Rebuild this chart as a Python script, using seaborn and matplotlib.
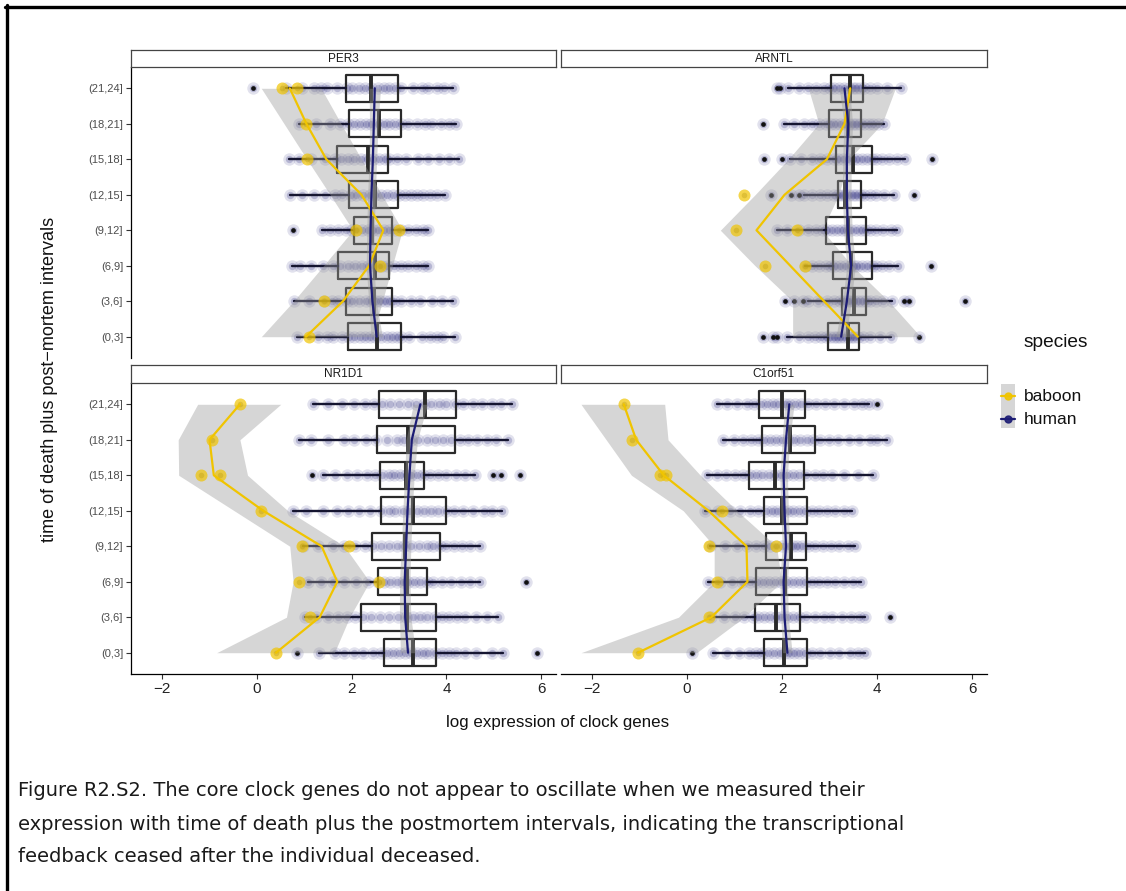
import numpy as np
import pandas as pd
import matplotlib
matplotlib.use("Agg")
import matplotlib.pyplot as plt
from matplotlib.lines import Line2D
from matplotlib.patches import Rectangle
import seaborn as sns

sns.set_theme(style="white")
plt.rcParams["font.family"] = ["Liberation Sans", "DejaVu Sans"]

# ---------------------------------------------------------------- data
intervals = ["(0,3]", "(3,6]", "(6,9]", "(9,12]", "(12,15]", "(15,18]", "(18,21]", "(21,24]"]
genes = ["PER3", "ARNTL", "NR1D1", "C1orf51"]
species = ["baboon", "human"]
x_ticks = [-2, 0, 2, 4, 6]

# PER3
per3_q1 = [1.93, 1.88, 1.72, 2.06, 1.95, 1.70, 1.95, 1.88]
per3_med = [2.53, 2.47, 2.50, 2.44, 2.49, 2.35, 2.57, 2.42]
per3_q3 = [3.04, 2.86, 2.79, 2.86, 2.98, 2.77, 3.05, 2.98]
per3_wlo = [0.86, 0.79, 0.75, 1.37, 0.70, 0.69, 0.90, 0.63]
per3_whi = [4.17, 4.14, 3.61, 3.61, 3.96, 4.27, 4.20, 4.13]
per3_out = [[], [], [], [0.77], [], [], [], [-0.07]]
per3_human = [
    [0.86, 1.30, 1.48, 1.62, 1.80, 1.95, 2.05, 2.18, 2.28, 2.38, 2.50, 2.62, 2.74, 2.85, 2.95, 3.05, 3.22, 3.48, 3.66, 3.80, 3.92, 4.17],
    [0.79, 1.10, 1.42, 1.58, 1.72, 1.90, 2.02, 2.15, 2.30, 2.42, 2.52, 2.60, 2.70, 2.80, 2.90, 3.05, 3.25, 3.45, 3.70, 3.90, 4.14],
    [0.75, 0.92, 1.15, 1.40, 1.62, 1.75, 1.92, 2.08, 2.22, 2.35, 2.48, 2.56, 2.64, 2.75, 2.90, 3.05, 3.20, 3.35, 3.50, 3.61],
    [0.77, 1.37, 1.55, 1.72, 1.88, 2.00, 2.10, 2.22, 2.35, 2.45, 2.55, 2.68, 2.80, 2.92, 3.05, 3.18, 3.35, 3.50, 3.61],
    [0.70, 0.95, 1.20, 1.45, 1.65, 1.80, 1.98, 2.10, 2.25, 2.38, 2.50, 2.62, 2.75, 2.88, 3.00, 3.12, 3.25, 3.38, 3.50, 3.65, 3.80, 3.96],
    [0.69, 0.90, 1.15, 1.45, 1.65, 1.78, 1.92, 2.05, 2.20, 2.32, 2.45, 2.58, 2.70, 2.80, 2.95, 3.15, 3.40, 3.62, 3.85, 4.05, 4.27],
    [0.90, 1.25, 1.55, 1.75, 1.92, 2.05, 2.18, 2.30, 2.42, 2.55, 2.68, 2.80, 2.92, 3.05, 3.20, 3.38, 3.55, 3.70, 3.88, 4.05, 4.20],
    [-0.07, 0.63, 0.95, 1.20, 1.35, 1.48, 1.70, 1.90, 2.02, 2.15, 2.28, 2.42, 2.55, 2.68, 2.80, 2.92, 3.05, 3.30, 3.48, 3.62, 3.80, 3.95, 4.13],
]
per3_baboon = [[1.11], [1.42], [2.60], [2.09, 3.00], [], [1.07], [1.04], [0.53, 0.86]]
per3_bab_mean = [1.04, 1.82, 2.37, 2.67, 2.21, 1.47, 1.05, 0.70]
per3_bab_lo = [0.10, 0.78, 1.41, 2.03, 1.55, 1.06, 0.58, 0.10]
per3_bab_hi = [2.44, 2.65, 2.86, 3.07, 2.64, 2.21, 1.78, 1.36]
per3_hum_fit = [2.53, 2.44, 2.39, 2.40, 2.42, 2.45, 2.47, 2.49]
per3_hum_se = [0.12, 0.08, 0.08, 0.08, 0.08, 0.08, 0.09, 0.12]

# ARNTL
arntl_q1 = [2.96, 3.26, 3.07, 2.92, 3.17, 3.14, 2.99, 3.02]
arntl_med = [3.39, 3.51, 3.45, 3.38, 3.33, 3.49, 3.39, 3.43]
arntl_q3 = [3.62, 3.77, 3.89, 3.76, 3.66, 3.89, 3.66, 3.69]
arntl_wlo = [2.10, 2.55, 2.48, 1.89, 2.45, 2.17, 2.03, 2.13]
arntl_whi = [4.28, 4.31, 4.43, 4.42, 4.35, 4.59, 4.14, 4.49]
arntl_out = [[1.59, 1.80, 1.90, 4.87], [2.06, 2.24, 2.43, 4.56, 4.66, 5.84], [5.13], [],
             [1.77, 2.19, 2.36, 4.78], [1.62, 1.99, 5.15], [1.60], [1.89, 1.95]]
arntl_human = [
    [1.59, 1.80, 1.90, 2.10, 2.35, 2.55, 2.70, 2.82, 2.92, 3.00, 3.08, 3.15, 3.22, 3.30, 3.38, 3.45, 3.52, 3.60, 3.70, 3.85, 4.05, 4.28, 4.87],
    [2.06, 2.24, 2.43, 2.55, 2.75, 2.95, 3.10, 3.22, 3.30, 3.38, 3.45, 3.52, 3.60, 3.68, 3.76, 3.85, 3.98, 4.12, 4.31, 4.56, 4.66, 5.84],
    [2.48, 2.62, 2.78, 2.92, 3.02, 3.12, 3.22, 3.32, 3.42, 3.50, 3.58, 3.68, 3.78, 3.88, 3.98, 4.10, 4.25, 4.43, 5.13],
    [1.89, 2.10, 2.35, 2.55, 2.72, 2.85, 2.95, 3.05, 3.15, 3.25, 3.35, 3.45, 3.55, 3.65, 3.75, 3.85, 3.98, 4.12, 4.28, 4.42],
    [1.77, 2.19, 2.36, 2.45, 2.62, 2.80, 2.95, 3.08, 3.18, 3.25, 3.32, 3.40, 3.48, 3.56, 3.64, 3.72, 3.85, 3.98, 4.15, 4.35, 4.78],
    [1.62, 1.99, 2.17, 2.40, 2.62, 2.80, 2.95, 3.08, 3.18, 3.28, 3.38, 3.48, 3.58, 3.68, 3.78, 3.88, 3.98, 4.10, 4.25, 4.42, 4.59, 5.15],
    [1.60, 2.03, 2.25, 2.45, 2.62, 2.78, 2.92, 3.02, 3.12, 3.22, 3.32, 3.40, 3.48, 3.56, 3.64, 3.72, 3.82, 3.92, 4.02, 4.14],
    [1.89, 1.95, 2.13, 2.35, 2.55, 2.72, 2.88, 3.00, 3.10, 3.20, 3.30, 3.40, 3.48, 3.56, 3.64, 3.72, 3.85, 4.00, 4.20, 4.49],
]
arntl_baboon = [[], [], [1.64, 2.48], [1.03, 2.32], [1.20], [], [], []]
arntl_bab_mean = [3.59, 2.88, 2.17, 1.46, 2.05, 2.94, 3.31, 3.43]
arntl_bab_lo = [2.22, 2.22, 1.43, 0.70, 1.43, 2.13, 2.77, 2.55]
arntl_bab_hi = [4.91, 4.24, 3.47, 2.84, 3.19, 3.40, 4.10, 4.38]
arntl_hum_fit = [3.24, 3.36, 3.45, 3.38, 3.36, 3.36, 3.39, 3.31]
arntl_hum_se = [0.11, 0.09, 0.09, 0.09, 0.09, 0.09, 0.09, 0.11]

# NR1D1
nr1d1_q1 = [2.69, 2.21, 2.55, 2.44, 2.62, 2.60, 2.53, 2.58]
nr1d1_med = [3.30, 3.17, 3.16, 3.13, 3.30, 3.14, 3.19, 3.54]
nr1d1_q3 = [3.78, 3.78, 3.60, 3.87, 3.98, 3.52, 4.18, 4.20]
nr1d1_wlo = [1.32, 1.02, 1.09, 0.98, 0.77, 1.39, 0.90, 1.19]
nr1d1_whi = [5.19, 5.09, 4.70, 4.70, 5.16, 4.60, 5.30, 5.37]
nr1d1_out = [[0.86, 5.91], [], [5.67], [], [], [1.16, 4.98, 5.14, 5.54], [], []]
nr1d1_human = [
    [0.86, 1.32, 1.65, 1.85, 2.05, 2.25, 2.45, 2.62, 2.75, 2.88, 3.00, 3.12, 3.25, 3.38, 3.50, 3.62, 3.75, 3.90, 4.05, 4.20, 4.40, 4.62, 4.95, 5.19, 5.91],
    [1.02, 1.25, 1.50, 1.72, 1.90, 2.08, 2.25, 2.42, 2.60, 2.80, 2.98, 3.15, 3.30, 3.45, 3.60, 3.75, 3.90, 4.05, 4.22, 4.40, 4.62, 4.85, 5.09],
    [1.09, 1.35, 1.60, 1.85, 2.10, 2.35, 2.55, 2.68, 2.82, 2.95, 3.08, 3.20, 3.32, 3.45, 3.58, 3.72, 3.90, 4.10, 4.30, 4.50, 4.70, 5.67],
    [0.98, 1.30, 1.60, 1.85, 2.08, 2.28, 2.45, 2.62, 2.78, 2.95, 3.10, 3.25, 3.42, 3.58, 3.72, 3.86, 4.00, 4.15, 4.32, 4.50, 4.70],
    [0.77, 1.05, 1.40, 1.70, 1.92, 2.15, 2.38, 2.62, 2.78, 2.92, 3.08, 3.22, 3.38, 3.52, 3.68, 3.82, 3.98, 4.15, 4.35, 4.55, 4.78, 4.95, 5.16],
    [1.16, 1.39, 1.65, 1.90, 2.12, 2.32, 2.50, 2.65, 2.78, 2.90, 3.02, 3.14, 3.26, 3.38, 3.50, 3.65, 3.82, 4.00, 4.20, 4.40, 4.60, 4.98, 5.14, 5.54],
    [0.90, 1.15, 1.50, 1.85, 2.05, 2.30, 2.52, 2.75, 2.95, 3.10, 3.25, 3.40, 3.58, 3.75, 3.92, 4.10, 4.28, 4.45, 4.65, 4.85, 5.05, 5.30],
    [1.19, 1.50, 1.80, 2.05, 2.28, 2.48, 2.65, 2.82, 3.00, 3.18, 3.35, 3.52, 3.68, 3.85, 4.00, 4.18, 4.35, 4.55, 4.75, 4.95, 5.15, 5.37],
]
nr1d1_baboon = [[0.41], [1.12], [0.90, 2.58], [0.95, 1.95], [0.09], [-1.18, -0.77], [-0.93], [-0.35]]
nr1d1_bab_mean = [0.41, 1.33, 1.70, 1.37, 0.14, -0.90, -0.99, -0.35]
nr1d1_bab_lo = [-0.84, 0.63, 0.77, 0.70, -0.47, -1.64, -1.65, -1.24]
nr1d1_bab_hi = [1.64, 1.96, 2.38, 1.85, 0.66, -0.19, -0.35, 0.51]
nr1d1_hum_fit = [3.19, 3.13, 3.12, 3.15, 3.18, 3.22, 3.27, 3.45]
nr1d1_hum_se = [0.16, 0.12, 0.11, 0.10, 0.10, 0.10, 0.12, 0.15]

# C1orf51
c1orf51_q1 = [1.62, 1.43, 1.45, 1.66, 1.62, 1.30, 1.58, 1.52]
c1orf51_med = [2.04, 1.87, 2.06, 2.19, 1.99, 1.84, 2.17, 1.99]
c1orf51_q3 = [2.52, 2.38, 2.52, 2.50, 2.52, 2.45, 2.69, 2.47]
c1orf51_wlo = [0.55, 0.51, 0.44, 0.48, 0.37, 0.41, 0.76, 0.63]
c1orf51_whi = [3.75, 3.75, 3.66, 3.54, 3.47, 3.92, 4.21, 3.83]
c1orf51_out = [[0.11], [4.26], [], [], [], [], [], [3.99]]
c1orf51_human = [
    [0.11, 0.55, 0.85, 1.10, 1.30, 1.45, 1.58, 1.70, 1.82, 1.95, 2.05, 2.15, 2.25, 2.35, 2.48, 2.62, 2.80, 3.00, 3.20, 3.42, 3.60, 3.75],
    [0.51, 0.78, 1.00, 1.20, 1.38, 1.50, 1.62, 1.75, 1.86, 1.98, 2.10, 2.22, 2.35, 2.50, 2.70, 2.88, 3.05, 3.25, 3.45, 3.62, 3.75, 4.26],
    [0.44, 0.70, 0.95, 1.15, 1.32, 1.48, 1.60, 1.72, 1.85, 1.98, 2.10, 2.22, 2.35, 2.48, 2.62, 2.78, 2.95, 3.12, 3.30, 3.48, 3.66],
    [0.48, 0.80, 1.05, 1.25, 1.45, 1.62, 1.75, 1.88, 2.00, 2.12, 2.22, 2.32, 2.42, 2.55, 2.70, 2.85, 3.02, 3.20, 3.38, 3.54],
    [0.37, 0.65, 0.90, 1.12, 1.32, 1.50, 1.65, 1.78, 1.90, 2.02, 2.12, 2.22, 2.35, 2.48, 2.62, 2.78, 2.95, 3.12, 3.30, 3.47],
    [0.41, 0.62, 0.82, 1.00, 1.18, 1.32, 1.45, 1.58, 1.72, 1.85, 1.98, 2.10, 2.22, 2.35, 2.50, 2.68, 2.85, 3.05, 3.30, 3.60, 3.92],
    [0.76, 0.98, 1.18, 1.35, 1.50, 1.62, 1.75, 1.88, 2.00, 2.12, 2.25, 2.38, 2.52, 2.65, 2.80, 2.98, 3.18, 3.40, 3.62, 3.85, 4.00, 4.21],
    [0.63, 0.85, 1.05, 1.25, 1.40, 1.55, 1.68, 1.80, 1.92, 2.05, 2.15, 2.28, 2.40, 2.55, 2.72, 2.90, 3.10, 3.30, 3.50, 3.68, 3.83, 3.99],
]
c1orf51_baboon = [[-1.03], [0.46], [0.64], [0.46, 1.87], [0.74], [-0.56, -0.45], [-1.16], [-1.33]]
c1orf51_bab_mean = [-1.03, 0.51, 1.27, 1.25, 0.45, -0.49, -1.07, -1.33]
c1orf51_bab_lo = [-2.23, -0.18, 0.57, 0.57, -0.08, -1.17, -1.70, -2.23]
c1orf51_bab_hi = [0.20, 1.20, 1.99, 1.88, 1.05, 0.28, -0.40, -0.47]
c1orf51_hum_fit = [2.11, 2.05, 2.03, 2.08, 2.05, 2.03, 2.08, 2.15]
c1orf51_hum_se = [0.10, 0.08, 0.08, 0.08, 0.08, 0.08, 0.08, 0.10]

panels = {
    "PER3": (per3_q1, per3_med, per3_q3, per3_wlo, per3_whi, per3_out, per3_human, per3_baboon,
             per3_bab_mean, per3_bab_lo, per3_bab_hi, per3_hum_fit, per3_hum_se),
    "ARNTL": (arntl_q1, arntl_med, arntl_q3, arntl_wlo, arntl_whi, arntl_out, arntl_human, arntl_baboon,
              arntl_bab_mean, arntl_bab_lo, arntl_bab_hi, arntl_hum_fit, arntl_hum_se),
    "NR1D1": (nr1d1_q1, nr1d1_med, nr1d1_q3, nr1d1_wlo, nr1d1_whi, nr1d1_out, nr1d1_human, nr1d1_baboon,
              nr1d1_bab_mean, nr1d1_bab_lo, nr1d1_bab_hi, nr1d1_hum_fit, nr1d1_hum_se),
    "C1orf51": (c1orf51_q1, c1orf51_med, c1orf51_q3, c1orf51_wlo, c1orf51_whi, c1orf51_out, c1orf51_human,
                c1orf51_baboon, c1orf51_bab_mean, c1orf51_bab_lo, c1orf51_bab_hi, c1orf51_hum_fit, c1orf51_hum_se),
}

# ---------------------------------------------------------------- style
GOLD = "#F0C400"
NAVY = "#1c1c74"
RIBBON = "#999999"
W, H = 1126, 891


def fig_rect(x0, y0, x1, y1):
    """Pixel box (top-left origin) -> figure fraction rect."""
    return [x0 / W, 1 - y1 / H, (x1 - x0) / W, (y1 - y0) / H]


def draw_panel(ax, name):
    (q1, med, q3, wlo, whi, out, human, baboon,
     bmean, blo, bhi, hfit, hse) = panels[name]
    pos = np.arange(len(intervals))

    hum = pd.DataFrame([(v, p) for p, vals in zip(pos, human) for v in vals],
                       columns=["value", "pos"])
    bab = pd.DataFrame([(v, p) for p, vals in zip(pos, baboon) for v in vals],
                       columns=["value", "pos"])

    # individual samples
    sns.scatterplot(data=hum, x="value", y="pos", color=NAVY, alpha=0.13, s=80,
                    linewidth=0, legend=False, ax=ax, zorder=2)
    sns.scatterplot(data=hum, x="value", y="pos", color=NAVY, alpha=0.22, s=28,
                    linewidth=0, legend=False, ax=ax, zorder=2)

    # human boxplots
    stats = [dict(med=m, q1=a, q3=b, whislo=lo, whishi=hi, fliers=f)
             for m, a, b, lo, hi, f in zip(med, q1, q3, wlo, whi, out)]
    ax.bxp(stats, positions=pos, widths=0.77, orientation="horizontal",
           showcaps=False, patch_artist=False,
           boxprops=dict(color="#2a2a2a", linewidth=1.6),
           whiskerprops=dict(color="#151530", linewidth=1.7),
           medianprops=dict(color="#2a2a2a", linewidth=2.8),
           flierprops=dict(marker="o", markerfacecolor="#111111",
                           markeredgecolor="none", markersize=3.4),
           zorder=3)

    # confidence bands
    ax.fill_betweenx(pos, blo, bhi, color=RIBBON, alpha=0.4, linewidth=0, zorder=4)
    hfit = np.asarray(hfit)
    hse = np.asarray(hse)
    ax.fill_betweenx(pos, hfit - hse, hfit + hse, color=RIBBON, alpha=0.4,
                     linewidth=0, zorder=4)

    # baboon samples
    if len(bab):
        sns.scatterplot(data=bab, x="value", y="pos", color=GOLD, alpha=0.7, s=75,
                        linewidth=0, legend=False, ax=ax, zorder=5)
        sns.scatterplot(data=bab, x="value", y="pos", color="#b89a10", alpha=0.35, s=16,
                        linewidth=0, legend=False, ax=ax, zorder=5)

    # trend lines
    sns.lineplot(x=bmean, y=pos, orient="y", sort=False, estimator=None,
                 color=GOLD, linewidth=1.6, ax=ax, zorder=6)
    sns.lineplot(x=hfit, y=pos, orient="y", sort=False, estimator=None,
                 color=NAVY, linewidth=1.6, ax=ax, zorder=6)

    ax.set_xlim(-2.65, 6.30)
    ax.set_ylim(-0.6, 7.6)
    ax.set_xlabel("")
    ax.set_ylabel("")
    ax.set_facecolor("white")
    for s in ax.spines.values():
        s.set_visible(False)


fig = plt.figure(figsize=(W / 100, H / 100), dpi=100)

layout = {
    "PER3": ((130.7, 67, 555.7, 358), (130.7, 50, 555.7, 67), True, False),
    "ARNTL": ((561, 67, 986.7, 358), (561, 50, 986.7, 67), False, False),
    "NR1D1": ((130.7, 383, 555.7, 674), (130.7, 365, 555.7, 383), True, True),
    "C1orf51": ((561, 383, 986.7, 674), (561, 365, 986.7, 383), False, True),
}

for name in genes:
    prect, srect, left_col, bottom_row = layout[name]
    ax = fig.add_axes(fig_rect(*prect))
    draw_panel(ax, name)

    ax.set_yticks(np.arange(len(intervals)))
    ax.set_xticks(x_ticks)
    if left_col:
        ax.spines["left"].set_visible(True)
        ax.spines["left"].set_color("black")
        ax.spines["left"].set_linewidth(0.9)
        ax.set_yticklabels(intervals)
        ax.tick_params(axis="y", left=True, length=3.5, width=0.8, color="#333333",
                       labelsize=8, labelcolor="#4d4d4d", pad=2)
    else:
        ax.tick_params(axis="y", left=False, labelleft=False)
    if bottom_row:
        ax.spines["bottom"].set_visible(True)
        ax.spines["bottom"].set_color("black")
        ax.spines["bottom"].set_linewidth(0.9)
        ax.set_xticklabels([f"{t}".replace("-", "\u2212") for t in x_ticks])
        ax.tick_params(axis="x", bottom=True, length=3.5, width=0.8, color="#333333",
                       labelsize=11, labelcolor="#222222", pad=2)
    else:
        ax.tick_params(axis="x", bottom=False, labelbottom=False)

    # facet strip
    sax = fig.add_axes(fig_rect(*srect))
    sax.set_xticks([])
    sax.set_yticks([])
    sax.set_facecolor("white")
    for s in sax.spines.values():
        s.set_visible(True)
        s.set_color("#444444")
        s.set_linewidth(0.9)
    sax.text(0.5, 0.5, name, ha="center", va="center", fontsize=8.5,
             color="#1a1a1a", transform=sax.transAxes)

# axis titles
fig.text(558 / W, 1 - 722 / H, "log expression of clock genes", ha="center",
         va="center", fontsize=12.2, color="#111111")
fig.text(50 / W, 1 - 379 / H, "time of death plus post\u2212mortem intervals",
         ha="center", va="center", rotation=90, fontsize=13, color="#111111")

# legend
lax = fig.add_axes(fig_rect(990, 320, 1126, 440))
lax.set_xlim(990, 1126)
lax.set_ylim(440, 320)
lax.axis("off")
lax.add_patch(Rectangle((1001, 384), 14, 44, facecolor="#d6d6d6", edgecolor="none"))
for sp, col, yk in zip(species, [GOLD, NAVY], [396.5, 419.5]):
    lax.plot([1001, 1015], [yk, yk], color=col, linewidth=1.6)
    lax.plot([1008], [yk], marker="o", markersize=5, color=col, alpha=0.9)
    lax.text(1024, yk, sp, ha="left", va="center", fontsize=12.5, color="#111111")
lax.text(1024, 343, "species", ha="left", va="center", fontsize=13.8, color="#111111")

# caption
caption = [
    "Figure R2.S2. The core clock genes do not appear to oscillate when we measured their",
    "expression with time of death plus the postmortem intervals, indicating the transcriptional",
    "feedback ceased after the individual deceased.",
]
for line, yc in zip(caption, [791, 824, 856]):
    fig.text(18 / W, 1 - yc / H, line, ha="left", va="center", fontsize=14,
             color="#1a1a1a", family=["DejaVu Sans"])

# page frame
fig.add_artist(Line2D([5 / W, 1], [1 - 6.5 / H, 1 - 6.5 / H], transform=fig.transFigure,
                      color="black", linewidth=2.4))
fig.add_artist(Line2D([6.5 / W, 6.5 / W], [0, 1 - 5 / H], transform=fig.transFigure,
                      color="black", linewidth=2.4))

fig.savefig("out.png", dpi=100, facecolor="white")
